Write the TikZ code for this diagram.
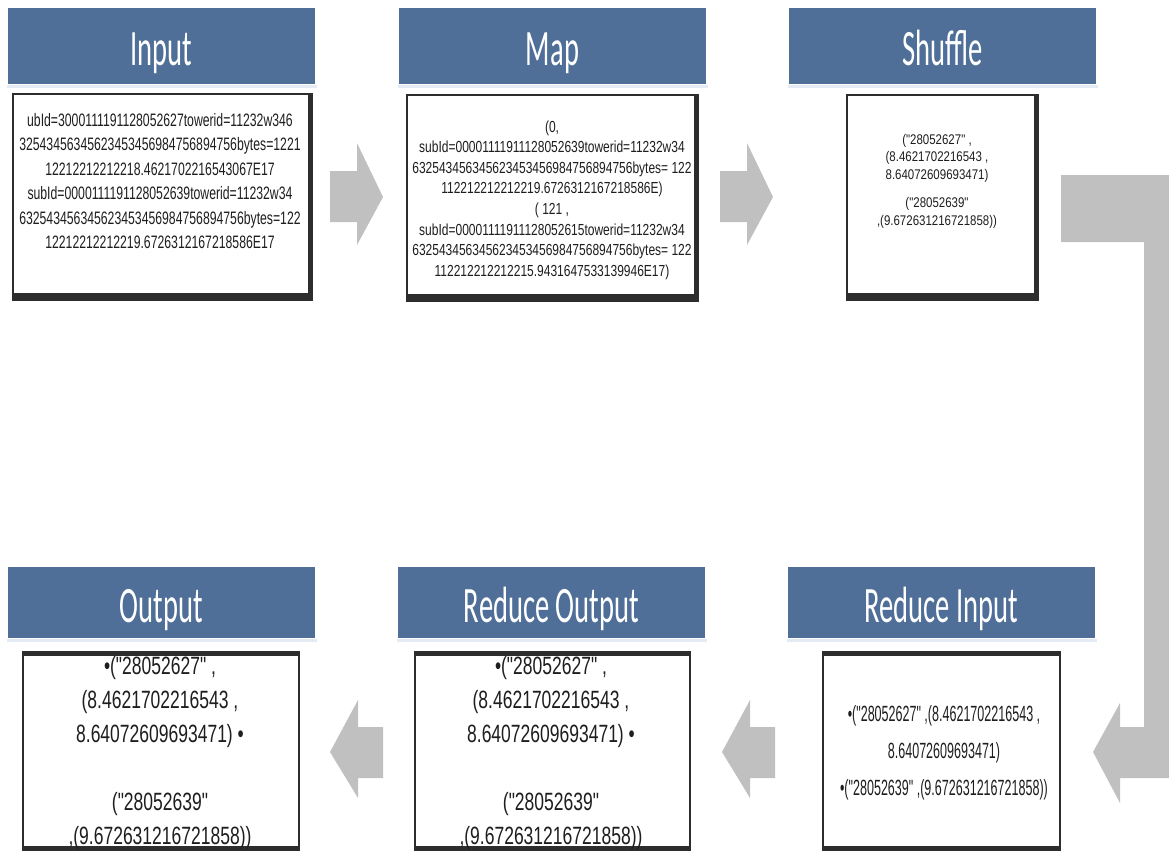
\documentclass[tikz,border=0pt]{standalone}
\usepackage{fontspec}
\newfontfamily\headfont[FakeStretch=0.56]{Carlito}
\newfontfamily\txtInput[FakeStretch=0.68]{Liberation Sans}
\newfontfamily\txtMap[FakeStretch=0.75]{Liberation Sans}
\newfontfamily\txtShuf[FakeStretch=0.82]{Liberation Sans}
\newfontfamily\txtOut[FakeStretch=0.70]{Liberation Sans}
\newfontfamily\txtRin[FakeStretch=0.57]{Liberation Sans}
\definecolor{hdrblue}{RGB}{79,111,152}
\definecolor{arrowgray}{RGB}{192,192,192}
\definecolor{boxedge}{RGB}{45,45,45}
\definecolor{glow}{RGB}{228,235,244}
\definecolor{txtcol}{RGB}{30,30,30}
\begin{document}
\begin{tikzpicture}[x=1pt,y=-1pt,
  hdr/.style={fill=hdrblue, draw=none, anchor=north west, inner sep=0pt, outer sep=0pt,
    minimum width=307pt, text=white, font=\headfont\fontsize{51}{51}\selectfont,
    text height=39pt, text depth=0pt},
  databox/.style={draw=boxedge, line width=2pt, fill=white, anchor=north west,
    inner sep=0pt, outer sep=0pt},
  datatext/.style={align=center, inner sep=0pt, text=txtcol},
  band/.style={fill=boxedge},
  glowbox/.style={fill=glow},
  blockarrow/.style={fill=arrowgray, draw=none}]
\useasboundingbox (0,0) rectangle (1169,852);

% headers
\node[hdr, minimum height=76pt] (hin) at (8,8) {Input};
\node[hdr, minimum height=76pt] (hmap) at (399,8) {Map};
\node[hdr, minimum height=76pt] (hshuf) at (789,8) {Shuffle};
\node[hdr, minimum height=71pt] (hout) at (8,567) {Output};
\node[hdr, minimum height=71pt] (hrout) at (398,567) {Reduce Output};
\node[hdr, minimum height=71pt] (hrin) at (788,567) {Reduce Input};

\foreach \h in {hin,hmap,hshuf,hout,hrout,hrin}{
  \fill[glowbox] ([xshift=-1pt,yshift=-1pt]\h.south west) rectangle ([xshift=2pt,yshift=-4pt]\h.south east);
}

% data boxes
\node[databox, minimum width=299pt, minimum height=206pt] (bin) at (13,94) {};
\node[databox, minimum width=291pt, minimum height=206pt] (bmap) at (407,95) {};
\node[databox, minimum width=191pt, minimum height=205pt] (bshuf) at (847,95) {};
\node[databox, minimum width=276pt, minimum height=198pt] (bout) at (23,652) {};
\node[databox, minimum width=275pt, minimum height=198pt] (brout) at (415,652) {};
\node[databox, minimum width=237pt, minimum height=198pt] (brin) at (823,652) {};

\foreach \b in {bin,bmap,bshuf}{
  \fill[band] ([yshift=7pt]\b.south west) rectangle (\b.south east);
  \fill[band] ([xshift=-4pt]\b.north east) rectangle (\b.south east);
}
\foreach \b in {bout,brout,brin}{
  \fill[band] (\b.north west) rectangle ([yshift=-4pt]\b.north east);
  \fill[band] ([yshift=4pt]\b.south west) rectangle (\b.south east);
}

% texts
\node[datatext, font=\txtInput\fontsize{18}{24.4}\selectfont] (tin) at (160,181) {%
ubId=3000111191128052627towerid=11232w346\\
32543456345623453456984756894756bytes=1221\\
12212212212218.4621702216543067E17\\
subId=0000111191128052639towerid=11232w34\\
632543456345623453456984756894756bytes=122\\
12212212212219.6726312167218586E17};

\node[datatext, font=\txtMap\fontsize{16}{20.6}\selectfont] (tmap) at (552,200) {%
(0,\\
subId=00001111911128052639towerid=11232w34\\
632543456345623453456984756894756bytes= 122\\
112212212212219.6726312167218586E)\\
( 121 ,\\
subId=00001111911128052615towerid=11232w34\\
632543456345623453456984756894756bytes= 122\\
112212212212215.9431647533139946E17)};

\node[datatext, font=\txtShuf\fontsize{14}{17.5}\selectfont] (tshuf) at (937,181) {%
("28052627" ,\\
(8.4621702216543 ,\\
8.64072609693471)\\[11pt]
("28052639"\\
,(9.672631216721858))};

\node[datatext, font=\txtOut\fontsize{25}{34}\selectfont] (tout) at (160,753) {%
•("28052627" ,\\
(8.4621702216543 ,\\
8.64072609693471) •\\[34pt]
("28052639"\\
,(9.672631216721858))};

\node[datatext, font=\txtOut\fontsize{25}{34}\selectfont] (trout) at (551,753) {%
•("28052627" ,\\
(8.4621702216543 ,\\
8.64072609693471) •\\[34pt]
("28052639"\\
,(9.672631216721858))};

\node[datatext, font=\txtRin\fontsize{22}{37}\selectfont] (trin) at (944,753) {%
•("28052627" ,(8.4621702216543 ,\\
8.64072609693471)\\
•("28052639" ,(9.672631216721858))};

% block arrows (top row, pointing right)
\fill[blockarrow] (330,171) -- (357,171) -- (357,143) -- (383,197) -- (357,245) -- (357,222) -- (330,222) -- cycle;
\fill[blockarrow] (720,171) -- (747,171) -- (747,143) -- (773,197) -- (747,245) -- (747,222) -- (720,222) -- cycle;
% bent arrow from Shuffle to Reduce Input
\fill[blockarrow] (1061,175) -- (1169,175) -- (1169,778) -- (1120,778) -- (1120,803) -- (1093,752)
  -- (1120,703) -- (1120,727) -- (1144,727) -- (1144,242) -- (1061,242) -- cycle;
% bottom row, pointing left
\fill[blockarrow] (383,727) -- (358,727) -- (358,700) -- (330,752) -- (358,798) -- (358,778) -- (383,778) -- cycle;
\fill[blockarrow] (775,727) -- (750,727) -- (750,700) -- (722,752) -- (750,798) -- (750,778) -- (775,778) -- cycle;
\end{tikzpicture}
\end{document}
